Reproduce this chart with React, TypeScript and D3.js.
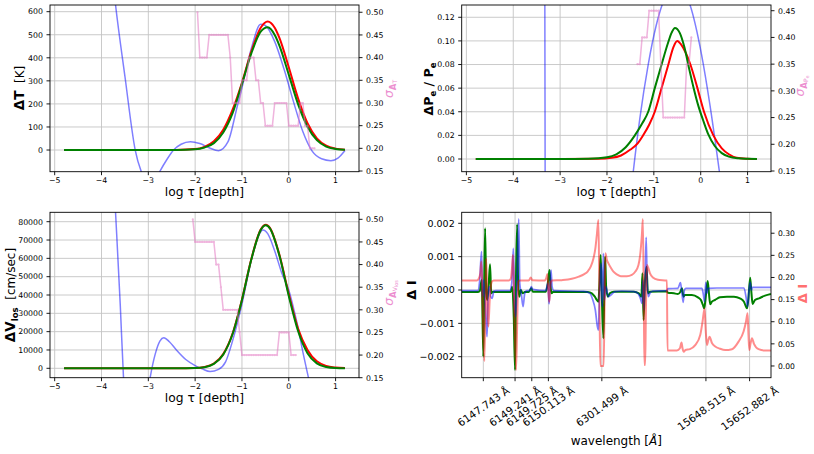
import React from 'react';
import * as d3 from 'd3';

type Pt = [number, number];

// ---------------- depth panels: shared ticks ----------------
const depthTicks = [-5, -4, -3, -2, -1, 0, 1];

// ---------------- Temperature (top-left) ----------------
const tempTicks = [0, 100, 200, 300, 400, 500, 600];
const sigmaTicks50 = [0.15, 0.2, 0.25, 0.3, 0.35, 0.4, 0.45, 0.5];
const tempTau = [-4.8, -2.4, -2.0, -1.8, -1.6, -1.4, -1.2, -1.0, -0.8, -0.6, -0.45, -0.3, -0.2, 0.0, 0.2, 0.4, 0.6, 0.8, 1.0, 1.2];
const tempRed = [0, 0.5, 4, 14, 38, 88, 175, 292, 428, 530, 557, 530, 486, 359, 223, 116, 51, 19, 6, 1.5];
const tempGreen = [0, 0.3, 3, 11, 30, 76, 160, 287, 419, 513, 532, 499, 453, 327, 198, 101, 43, 15, 4.6, 1.2];
const tempBlueTau = [-4.8, -4.4, -4.0, -3.7, -3.5, -3.28, -3.1, -2.95, -2.8, -2.6, -2.46, -2.3, -2.1, -1.9, -1.7, -1.5, -1.3, -1.1, -1.0, -0.8, -0.6, -0.5, -0.3, -0.1, 0.1, 0.3, 0.5, 0.7, 0.9, 1.05, 1.2];
const tempBlue = [3800, 2500, 1250, 629, 320, 0, -120, -170, -110, -40, 0, 25, 36, 28, 10, -3, 35, 190, 270, 440, 545, 540, 470, 350, 210, 80, -5, -38, -46, -35, -2];
const tempSigmaTau = [-1.95, -1.9, -1.85, -1.8, -1.75, -1.7, -1.65, -1.6, -1.55, -1.5, -1.45, -1.4, -1.35, -1.3, -1.25, -1.2, -1.15, -1.1, -1.05, -1.0, -0.95, -0.9, -0.85, -0.8, -0.75, -0.7, -0.65, -0.6, -0.55, -0.5, -0.45, -0.4, -0.35, -0.3, -0.25, -0.2, -0.15, -0.1, -0.05, 0.0, 0.05, 0.1, 0.15, 0.2, 0.25, 0.3, 0.35, 0.4, 0.45, 0.5, 0.55];
const tempSigma = [0.5, 0.4, 0.4, 0.4, 0.4, 0.45, 0.45, 0.45, 0.45, 0.45, 0.45, 0.45, 0.45, 0.45, 0.4, 0.3, 0.3, 0.3, 0.3, 0.35, 0.35, 0.35, 0.4, 0.4, 0.4, 0.35, 0.35, 0.3, 0.3, 0.25, 0.25, 0.25, 0.25, 0.3, 0.3, 0.3, 0.3, 0.3, 0.3, 0.25, 0.25, 0.25, 0.25, 0.25, 0.3, 0.3, 0.25, 0.25, 0.2, 0.2, 0.2];

// ---------------- Electron pressure (top-right) ----------------
const peTicks = [0, 0.02, 0.04, 0.06, 0.08, 0.1, 0.12];
const sigmaTicks45 = [0.15, 0.2, 0.25, 0.3, 0.35, 0.4, 0.45];
const peGreenTau = [-4.8, -3.0, -2.4, -2.0, -1.8, -1.6, -1.405, -1.25, -1.12, -0.98, -0.835, -0.7, -0.62, -0.55, -0.45, -0.35, -0.25, -0.15, -0.05, 0.05, 0.16, 0.3, 0.45, 0.6, 0.8, 1.0, 1.2];
const peGreen = [0, 0, 0.0003, 0.0015, 0.004, 0.01, 0.02, 0.03, 0.04, 0.06, 0.08, 0.098, 0.107, 0.111, 0.107, 0.095, 0.077, 0.06, 0.045, 0.033, 0.021, 0.011, 0.005, 0.002, 0.0006, 0.0002, 0];
const peRedTau = [-4.8, -3.0, -2.2, -1.9, -1.7, -1.5, -1.35, -1.23, -1.1, -0.98, -0.835, -0.69, -0.58, -0.5, -0.42, -0.32, -0.22, -0.07, 0.07, 0.27, 0.45, 0.6, 0.77, 1.0, 1.2];
const peRed = [0, 0, 0.0002, 0.001, 0.003, 0.008, 0.013, 0.02, 0.029, 0.04, 0.06, 0.08, 0.095, 0.0999, 0.097, 0.09, 0.08, 0.06, 0.04, 0.02, 0.009, 0.004, 0.001, 0.0002, 0];
const peBlueTau = [-4.8, -4.0, -3.5, -3.32, -3.1, -2.5, -1.9, -1.6, -1.44, -1.3, -1.12, -0.95, -0.8, -0.52, -0.25, 0.02, 0.2, 0.4, 0.6, 0.9, 1.2];
const peBlue = [60, 20, 4, 0, -4, -2, -0.21, -0.071, -0.011, 0.034, 0.08, 0.113, 0.133, 0.1474, 0.133, 0.088, 0.045, -0.011, -0.07, -0.2, -0.5];
const peSigmaTau = [-1.35, -1.3, -1.25, -1.2, -1.15, -1.1, -1.05, -1.0, -0.95, -0.9, -0.85, -0.8, -0.75, -0.7, -0.65, -0.6, -0.55, -0.5, -0.45, -0.4, -0.35, -0.3, -0.25, -0.2];
const peSigma = [0.35, 0.35, 0.4, 0.4, 0.4, 0.45, 0.45, 0.45, 0.45, 0.45, 0.35, 0.25, 0.25, 0.25, 0.25, 0.25, 0.25, 0.25, 0.25, 0.25, 0.25, 0.35, 0.35, 0.4];

// ---------------- Line-of-sight velocity (bottom-left) ----------------
const vlosTicks = [0, 10000, 20000, 30000, 40000, 50000, 60000, 70000, 80000];
const vlosTau = [-4.8, -2.4, -2.0, -1.8, -1.6, -1.4, -1.2, -1.0, -0.8, -0.6, -0.49, -0.4, -0.2, 0.0, 0.2, 0.4, 0.6, 0.8, 1.0, 1.2];
const vlosGreen = [0, 20, 122, 605, 2380, 7470, 18700, 37300, 59400, 75400, 78000, 76200, 61500, 39500, 20200, 8270, 2690, 700, 145, 25];
const vlosRed = [0, 30, 150, 700, 2600, 7800, 19000, 37500, 59600, 75700, 78300, 76500, 62000, 40500, 21500, 10000, 3800, 1300, 400, 100];
const vlosBlueTau = [-4.8, -4.2, -3.9, -3.7, -3.6, -3.53, -3.4, -3.2, -3.05, -2.96, -2.85, -2.75, -2.67, -2.55, -2.4, -2.2, -2.0, -1.85, -1.68, -1.5, -1.35, -1.2, -1.0, -0.8, -0.65, -0.55, -0.45, -0.3, -0.15, 0.0, 0.1, 0.2, 0.3, 0.376, 0.42, 0.6, 0.9, 1.2];
const vlosBlue = [900000, 400000, 180000, 85000, 35000, -5000, -40000, -45000, -20000, -5000, 8000, 15000, 16700, 14500, 10000, 4800, 1500, -300, -1800, -600, 3500, 15000, 35000, 59000, 72000, 75500, 73500, 64000, 52000, 42700, 33000, 22000, 9000, 0, -5100, -30000, -80000, -150000];
const vlosSigmaTau = [-2.05, -2.0, -1.95, -1.9, -1.85, -1.8, -1.75, -1.7, -1.65, -1.6, -1.55, -1.5, -1.45, -1.4, -1.35, -1.3, -1.25, -1.2, -1.15, -1.1, -1.05, -1.0, -0.95, -0.9, -0.85, -0.8, -0.75, -0.7, -0.65, -0.6, -0.55, -0.5, -0.45, -0.4, -0.35, -0.3, -0.25, -0.2, -0.15, -0.1, -0.05, 0.0, 0.05, 0.1, 0.15];
const vlosSigma = [0.5, 0.45, 0.45, 0.45, 0.45, 0.45, 0.45, 0.45, 0.45, 0.45, 0.4, 0.4, 0.35, 0.3, 0.3, 0.3, 0.3, 0.3, 0.3, 0.3, 0.25, 0.2, 0.2, 0.2, 0.2, 0.2, 0.2, 0.2, 0.2, 0.2, 0.2, 0.2, 0.2, 0.2, 0.2, 0.2, 0.2, 0.25, 0.25, 0.25, 0.25, 0.25, 0.2, 0.2, 0.2];

// ---------------- Spectra (bottom-right), x = sample index ----------------
const lineIndex = [21.6, 53.3, 70, 86.6, 140, 244, 287.6];
const lineLabels = ['6147.743 Å', '6149.241 Å', '6149.725 Å', '6150.113 Å', '6301.499 Å', '15648.515 Å', '15652.882 Å'];
const dITicks = [-0.002, -0.001, 0, 0.001, 0.002];
const iTicks = [0, 0.05, 0.1, 0.15, 0.2, 0.25, 0.3];
const specGreen: Pt[] = [
  [0, -0.00006], [16, -0.00006], [18, -0.00003], [20, 0.0003], [21.6, -0.002], [22.5, 0.0002], [23.4, 0.00185], [24.5, -0.0001], [25.6, -0.0003], [27, 0.0002], [28.3, 0.00077], [29.5, -0.0001], [31, -0.00005], [33, -0.00006],
  [49, -0.00006], [50.5, 0.0001], [52, -0.0008], [53.3, -0.0024], [54.3, 0.0005], [55.4, 0.00197], [56.4, 0.0002], [57.5, -0.0002], [59, 0], [61, -0.0001], [63, -0.00006],
  [67, -0.00006], [69.5, 0.00005], [71, -0.00005], [84, -0.00005], [86, 0.0002], [87.8, 0.0006], [88.8, 0.0001], [89.8, -0.0001], [91.5, -0.00005],
  [126, -0.00006], [130, -0.0001], [133, -0.0002], [135, -0.0003], [136.6, -0.00035], [137.6, 0.0002], [138.8, 0.00105], [140, -0.0002], [141.6, -0.00145], [142.5, 0.0001], [143.3, 0.001], [144.3, 0.0001], [146, -0.0002], [148, -0.0001], [152, -0.00005],
  [172, -0.00005], [177, -0.0001], [179.5, -0.0002], [180.6, 0.0005], [181.7, -0.0009], [183, 0.0002], [184.7, 0.0007], [186, -0.0001], [188, -0.00005], [205, -0.00004],
  [206, -0.00008], [212, -0.0001], [216, -0.00012], [218.5, -0.00005], [220, 0.00005], [221.6, -0.0002], [223, -0.00015], [230, -0.00015], [236, -0.00022], [239, -0.0003], [241, -0.00045], [242.3, -0.00055], [243.5, -0.0003], [245.7, 0.00027], [247, -0.0001], [248.3, -0.00043], [250, -0.00035], [253, -0.0003], [258, -0.00022], [265, -0.0002], [272, -0.0002], [278, -0.00025], [282, -0.00035], [285, -0.00055], [286.3, -0.0003], [288.2, 0.00037], [289.5, -0.0001], [290.6, -0.00042], [293, -0.0003], [297, -0.00025], [303, -0.00017], [309, -0.00012],
];
const specBlue: Pt[] = [
  [0, -0.00002], [16, -0.00002], [18, 0.0003], [19.8, 0.00115], [20.8, -0.0002], [22, 0.0003], [23.6, -0.0005], [25.3, -0.0014], [26.5, -0.0001], [27.6, 0.0001], [29, -0.0002], [30.5, -0.00025], [32, -0.00005], [34, -0.00002],
  [48, -0.00002], [50, 0.0002], [51.6, 0.00125], [52.6, -0.0003], [54, -0.0008], [55.3, 0.0003], [57, 0.00213], [58, 0.0002], [59.5, -0.0001], [61.3, -0.0005], [63, -0.0001], [65, -0.00002],
  [68, -0.00002], [69.5, 0.0001], [71, 0.00002], [84, -0.00002], [86, 0.0002], [87.3, -0.00042], [88.3, 0.0001], [89.3, 0.0006], [90.3, 0.0001], [92, -0.00002],
  [122, -0.00004], [128, -0.0001], [131, -0.0003], [133.5, -0.0006], [135.6, -0.0011], [136.6, -0.0012], [137.5, -0.0003], [139.3, 0.0008], [140.5, -0.0005], [141.6, 0.0011], [142.6, -0.0003], [144, 0.0001], [146.6, -0.0002], [149, -0.00015], [153, -0.00005], [160, -0.00003],
  [172, -0.00005], [176, -0.0001], [179, -0.0003], [180, -0.0004], [181, 0.0003], [182, -0.0006], [183.3, 0.0004], [184.3, 0.00158], [185.3, 0.0002], [186.5, -0.0002], [188, -0.0001], [191, -0.00003], [205, -0.00002],
  [206, 0.00004], [216, 0.00005], [218.5, 0.00022], [219.5, 0.00005], [221.3, -0.00037], [222.5, 0], [224, 0.00005], [240, 0.00005], [241.5, -0.00015], [242.6, -0.00035], [243.8, 0.00023], [245, -0.0001], [246.2, 0.00005], [255, 0.00006], [282, 0.00006], [284, -0.0002], [285.6, -0.0005], [287, 0], [288.3, 0.00023], [289.3, 0], [290.5, 0.00008], [309, 0.00008],
];
const specRed: Pt[] = [
  [0, 0.193], [15, 0.193], [17, 0.197], [18.6, 0.21], [19.6, 0.236], [20.8, 0.15], [22.6, 0.011], [23.6, 0.12], [24.4, 0.243], [25.4, 0.17], [26.6, 0.089], [28, 0.15], [30, 0.19], [32, 0.193],
  [47, 0.193], [49, 0.197], [50.2, 0.22], [51.2, 0.251], [52.4, 0.14], [54.3, -0.009], [55.4, 0.09], [56.6, 0.19], [58, 0.193],
  [67, 0.193], [69, 0.2], [70.5, 0.194], [83, 0.193], [84.6, 0.2], [85.6, 0.208], [86.6, 0.17], [87.6, 0.145], [88.6, 0.185], [90, 0.193],
  [100, 0.194], [110, 0.197], [117, 0.202], [122, 0.207], [126, 0.214], [129, 0.225], [131.6, 0.243], [133.5, 0.265], [135, 0.296], [136.6, 0.33], [137.6, 0.15], [138.5, 0], [141.8, 0], [142.8, 0.15], [143.6, 0.255], [145, 0.24], [146.6, 0.232], [149, 0.222], [151.6, 0.213], [155, 0.207], [159, 0.203], [165, 0.203], [170, 0.206], [173.3, 0.213], [176.6, 0.228], [178.3, 0.251], [180, 0.296], [181, 0.332], [182, 0.12], [182.6, 0.002], [183.3, 0.002], [184, 0.12], [185, 0.228], [186.3, 0.222], [188, 0.21], [191, 0.2], [196, 0.195], [205, 0.193], [205.6, 0.035],
  [215, 0.035], [218, 0.04], [219.6, 0.053], [220.6, 0.04], [221.8, 0.032], [223.5, 0.036], [228, 0.038], [233.3, 0.047], [238.3, 0.07], [240.6, 0.1], [242.6, 0.13], [243.8, 0.08], [245, 0.047], [246.3, 0.058], [247.6, 0.066], [250, 0.052], [253.3, 0.044], [258, 0.039], [263.3, 0.036], [270, 0.038], [276.6, 0.055], [281.6, 0.078], [284, 0.1], [285.6, 0.119], [286.5, 0.07], [287.3, 0.036], [288.5, 0.05], [290, 0.0625], [292, 0.05], [296.6, 0.038], [303, 0.035], [309, 0.035],
];

// ---------------- rendering ----------------
const FONT = 'DejaVu Sans, Verdana, sans-serif';
const PINK = '#e377c2';
const PINK_TEXT = '#ec8fd0';
const minus = (s: string) => s.replace('-', '\u2212');
const zip = (xs: number[], ys: number[]): Pt[] => xs.map((x, i) => [x, ys[i]] as Pt);

interface Series {
  pts: Pt[];
  color: string;
  width: number;
  opacity?: number;
  right?: boolean;
  markers?: boolean;
  linear?: boolean;
}

interface PanelProps {
  id: string;
  box: { l: number; r: number; t: number; b: number };
  xDomain: [number, number];
  yDomain: [number, number];
  y2Domain: [number, number];
  xTicks: number[];
  xTickLabels: string[];
  rotateX?: boolean;
  xTickFont: number;
  yTicks: number[];
  yFmt: (v: number) => string;
  yTickFont: number;
  y2Ticks: number[];
  y2Fmt: (v: number) => string;
  y2TickFont: number;
  series: Series[];
}

const charW: Record<string, number> = { '.': 0.318, ' ': 0.318, 'Å': 0.684 };
const textWidth = (s: string, f: number) => s.split('').reduce((a, c) => a + (charW[c] ?? 0.636), 0) * f;

function Panel(p: PanelProps) {
  const { l, r, t, b } = p.box;
  const xs = d3.scaleLinear().domain(p.xDomain).range([l, r]);
  const ys = d3.scaleLinear().domain(p.yDomain).range([b, t]);
  const ys2 = d3.scaleLinear().domain(p.y2Domain).range([b, t]);
  const clipId = `clip-${p.id}`;
  const tick = 3.5;
  const pad = 3.5;
  const grid = '#c4c4c4';
  return (
    <g>
      <defs>
        <clipPath id={clipId}>
          <rect x={l} y={t} width={r - l} height={b - t} />
        </clipPath>
      </defs>
      {p.xTicks.map((v, i) => (
        <line key={'gx' + i} x1={xs(v)} x2={xs(v)} y1={t} y2={b} stroke={grid} strokeWidth={0.9} />
      ))}
      {p.yTicks.map((v, i) => (
        <line key={'gy' + i} x1={l} x2={r} y1={ys(v)} y2={ys(v)} stroke={grid} strokeWidth={0.9} />
      ))}
      <g clipPath={`url(#${clipId})`}>
        {p.series.map((s, i) => {
          const sy = s.right ? ys2 : ys;
          const gen = d3
            .line<Pt>()
            .x((d) => xs(d[0]))
            .y((d) => sy(d[1]))
            .curve(s.linear ? d3.curveLinear : d3.curveMonotoneX);
          return (
            <g key={'s' + i} opacity={s.opacity ?? 1}>
              <path d={gen(s.pts) || ''} fill="none" stroke={s.color} strokeWidth={s.width} strokeLinejoin="round" />
              {s.markers &&
                s.pts.map((d, j) => <circle key={j} cx={xs(d[0])} cy={sy(d[1])} r={1.1} fill={s.color} />)}
            </g>
          );
        })}
      </g>
      <rect x={l} y={t} width={r - l} height={b - t} fill="none" stroke="#000" strokeWidth={0.9} />
      {p.xTicks.map((v, i) => {
        const x = xs(v);
        const label = p.xTickLabels[i];
        let txt;
        if (p.rotateX) {
          const f = p.xTickFont;
          const L = textWidth(label, f);
          const th = (35 * Math.PI) / 180;
          const hh = 1.0 * f;
          const Hb = L * Math.sin(th) + hh * Math.cos(th);
          const cy = b + tick + pad + Hb / 2;
          txt = (
            <text
              transform={`translate(${x},${cy}) rotate(-35)`}
              textAnchor="middle"
              dominantBaseline="central"
              fontSize={f}
              fontFamily={FONT}
              fill="#000"
            >
              {label}
            </text>
          );
        } else {
          txt = (
            <text x={x} y={b + 11.3} textAnchor="middle" fontSize={p.xTickFont} fontFamily={FONT} fill="#000">
              {label}
            </text>
          );
        }
        return (
          <g key={'xt' + i}>
            <line x1={x} x2={x} y1={b} y2={b + tick} stroke="#000" strokeWidth={0.9} />
            {txt}
          </g>
        );
      })}
      {p.yTicks.map((v, i) => {
        const y = ys(v);
        return (
          <g key={'yt' + i}>
            <line x1={l - tick} x2={l} y1={y} y2={y} stroke="#000" strokeWidth={0.9} />
            <text x={l - tick - pad} y={y} dy="0.36em" textAnchor="end" fontSize={p.yTickFont} fontFamily={FONT} fill="#000">
              {p.yFmt(v)}
            </text>
          </g>
        );
      })}
      {p.y2Ticks.map((v, i) => {
        const y = ys2(v);
        return (
          <g key={'y2t' + i}>
            <line x1={r} x2={r + tick} y1={y} y2={y} stroke="#000" strokeWidth={0.9} />
            <text x={r + tick + pad} y={y} dy="0.36em" textAnchor="start" fontSize={p.y2TickFont} fontFamily={FONT} fill="#000">
              {p.y2Fmt(v)}
            </text>
          </g>
        );
      })}
    </g>
  );
}

const fmtInt = (v: number) => minus(String(v));
const fmt2 = (v: number) => minus(d3.format('.2f')(v));
const fmt3 = (v: number) => minus(d3.format('.3f')(v));
const depthLabels = depthTicks.map((v) => minus(String(v)));

export default function App() {
  const TL = { l: 50, r: 359, t: 5, b: 171.7 };
  const TR = { l: 461.7, r: 771, t: 5, b: 171.7 };
  const BL = { l: 50, r: 359, t: 212.3, b: 377.7 };
  const BR = { l: 461.7, r: 771, t: 212.3, b: 377.7 };
  const blue = '#0000ff';
  const red = '#ff0000';
  const green = '#008000';

  return (
    <svg width={814} height={454} viewBox="0 0 814 454" style={{ position: 'absolute', left: 0, top: 0, background: '#fff' }} fontFamily={FONT}>
      <rect x={0} y={0} width={814} height={454} fill="#fff" />
      <Panel
        id="tl"
        box={TL}
        xDomain={[-5.1, 1.5]}
        yDomain={[-94, 629]}
        y2Domain={[0.1485, 0.516]}
        xTicks={depthTicks}
        xTickLabels={depthLabels}
        xTickFont={7.8}
        yTicks={tempTicks}
        yFmt={fmtInt}
        yTickFont={7.8}
        y2Ticks={sigmaTicks50}
        y2Fmt={fmt2}
        y2TickFont={7.8}
        series={[
          { pts: zip(tempBlueTau, tempBlue), color: blue, width: 1.5, opacity: 0.5 },
          { pts: zip(tempTau, tempRed), color: red, width: 2 },
          { pts: zip(tempTau, tempGreen), color: green, width: 2 },
          { pts: zip(tempSigmaTau, tempSigma), color: PINK, width: 1.5, opacity: 0.55, right: true, markers: true, linear: true },
        ]}
      />
      <Panel
        id="tr"
        box={TR}
        xDomain={[-5.1, 1.5]}
        yDomain={[-0.01075, 0.1304]}
        y2Domain={[0.1487, 0.4607]}
        xTicks={depthTicks}
        xTickLabels={depthLabels}
        xTickFont={7.8}
        yTicks={peTicks}
        yFmt={fmt2}
        yTickFont={7.8}
        y2Ticks={sigmaTicks45}
        y2Fmt={fmt2}
        y2TickFont={7.8}
        series={[
          { pts: zip(peBlueTau, peBlue), color: blue, width: 1.5, opacity: 0.5 },
          { pts: zip(peRedTau, peRed), color: red, width: 2 },
          { pts: zip(peGreenTau, peGreen), color: green, width: 2 },
          { pts: zip(peSigmaTau, peSigma), color: PINK, width: 1.5, opacity: 0.55, right: true, markers: true, linear: true },
        ]}
      />
      <Panel
        id="bl"
        box={BL}
        xDomain={[-5.1, 1.5]}
        yDomain={[-5130, 85130]}
        y2Domain={[0.15, 0.5155]}
        xTicks={depthTicks}
        xTickLabels={depthLabels}
        xTickFont={7.8}
        yTicks={vlosTicks}
        yFmt={fmtInt}
        yTickFont={7.8}
        y2Ticks={sigmaTicks50}
        y2Fmt={fmt2}
        y2TickFont={7.8}
        series={[
          { pts: zip(vlosBlueTau, vlosBlue), color: blue, width: 1.5, opacity: 0.5 },
          { pts: zip(vlosTau, vlosRed), color: red, width: 2 },
          { pts: zip(vlosTau, vlosGreen), color: green, width: 2 },
          { pts: zip(vlosSigmaTau, vlosSigma), color: PINK, width: 1.5, opacity: 0.55, right: true, markers: true, linear: true },
        ]}
      />
      <Panel
        id="br"
        box={BR}
        xDomain={[0, 309]}
        yDomain={[-0.00263, 0.00233]}
        y2Domain={[-0.0265, 0.3473]}
        xTicks={lineIndex}
        xTickLabels={lineLabels}
        rotateX
        xTickFont={10.5}
        yTicks={dITicks}
        yFmt={fmt3}
        yTickFont={9.5}
        y2Ticks={iTicks}
        y2Fmt={fmt2}
        y2TickFont={7.6}
        series={[
          { pts: specGreen, color: green, width: 2 },
          { pts: specBlue, color: blue, width: 1.7, opacity: 0.5 },
          { pts: specRed, color: red, width: 2, opacity: 0.45, right: true },
        ]}
      />

      <text x={204.5} y={196} textAnchor="middle" fontSize={12.3} fontFamily={FONT}>log τ [depth]</text>
      <text x={616.3} y={196} textAnchor="middle" fontSize={12.3} fontFamily={FONT}>log τ [depth]</text>
      <text x={204.5} y={402} textAnchor="middle" fontSize={12.3} fontFamily={FONT}>log τ [depth]</text>
      <text x={616.3} y={444.5} textAnchor="middle" fontSize={12} fontFamily={FONT}>
        wavelength [<tspan fontStyle="italic">Å</tspan>]
      </text>

      <text transform="translate(24,88) rotate(-90)" textAnchor="middle" fontSize={12} fontFamily={FONT}>
        <tspan fontWeight="bold" fontSize={13.5}>ΔT</tspan>
        <tspan>{'\u00a0\u00a0[K]'}</tspan>
      </text>
      <text transform="translate(433,89) rotate(-90)" textAnchor="middle" fontSize={12.5} fontFamily={FONT} fontWeight="bold">
        <tspan>ΔP</tspan>
        <tspan fontSize={8.5} dy={2.5}>e</tspan>
        <tspan dy={-2.5}>{'\u00a0/\u00a0P'}</tspan>
        <tspan fontSize={8.5} dy={2.5}>e</tspan>
      </text>
      <text transform="translate(15,295) rotate(-90)" textAnchor="middle" fontSize={12} fontFamily={FONT}>
        <tspan fontWeight="bold" fontSize={13.5}>ΔV</tspan>
        <tspan fontWeight="bold" fontSize={8.5} dy={2.5}>los</tspan>
        <tspan dy={-2.5}>{'\u00a0\u00a0[cm/sec]'}</tspan>
      </text>
      <text transform="translate(416,290) rotate(-90)" textAnchor="middle" fontSize={13} fontFamily={FONT} fontWeight="bold">
        Δ I
      </text>

      <text transform="translate(393,89) rotate(-90)" textAnchor="middle" fontSize={12.5} fontFamily={FONT} fill={PINK_TEXT}>
        <tspan fontStyle="italic">σ</tspan>
        <tspan fontSize={8.5} fontWeight="bold" dy={2.5}>A</tspan>
        <tspan fontSize={6} dy={1.5}>T</tspan>
      </text>
      <text transform="translate(804,86) rotate(-90)" textAnchor="middle" fontSize={12.5} fontFamily={FONT} fill={PINK_TEXT}>
        <tspan fontStyle="italic">σ</tspan>
        <tspan fontSize={8.5} fontWeight="bold" dy={2.5}>A</tspan>
        <tspan fontSize={6} dy={1.5}>P</tspan>
        <tspan fontSize={5} dy={1}>e</tspan>
      </text>
      <text transform="translate(393,293) rotate(-90)" textAnchor="middle" fontSize={12.5} fontFamily={FONT} fill={PINK_TEXT}>
        <tspan fontStyle="italic">σ</tspan>
        <tspan fontSize={8.5} fontWeight="bold" dy={2.5}>A</tspan>
        <tspan fontSize={6} dy={1.5}>V</tspan>
        <tspan fontSize={5} dy={1}>los</tspan>
      </text>
      <text transform="translate(807,293.5) rotate(-90)" textAnchor="middle" fontSize={13} fontFamily={FONT} fontWeight="bold" fill="#ff7070">
        Δ I
      </text>
    </svg>
  );
}
